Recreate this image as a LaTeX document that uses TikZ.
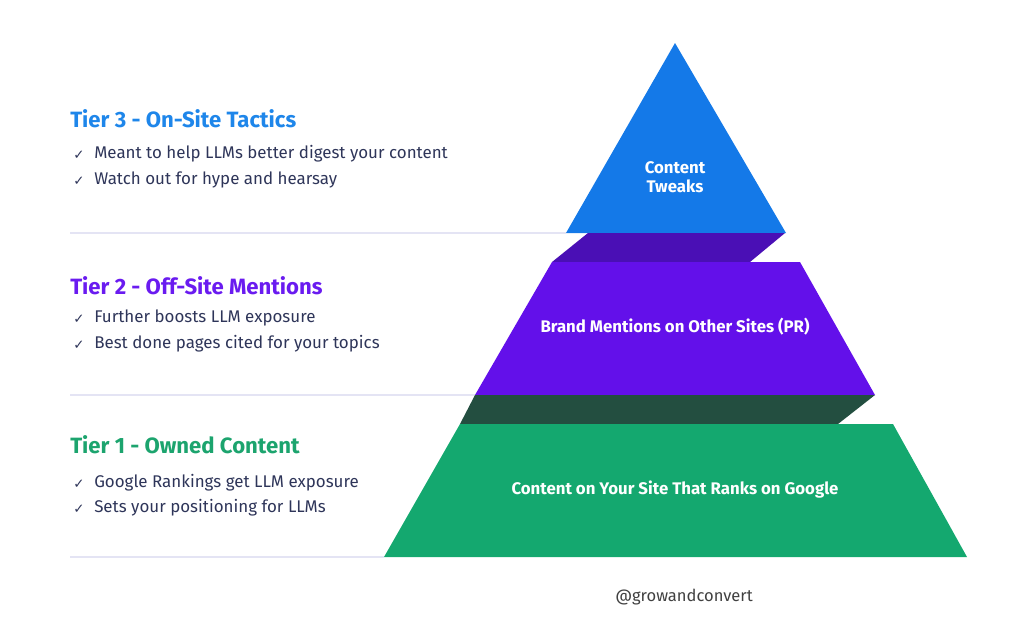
\documentclass[tikz,border=0pt]{standalone}
\usepackage{fontspec}
\setmainfont{Fira Sans}
\newfontfamily\symfont{DejaVu Sans}
\definecolor{tierblue}{HTML}{1479E8}
\definecolor{tierpurple}{HTML}{6310EA}
\definecolor{darkpurple}{HTML}{4A0FB5}
\definecolor{tiergreen}{HTML}{14A86F}
\definecolor{darkgreen}{HTML}{234E40}
\definecolor{headblue}{HTML}{1E86EA}
\definecolor{headpurple}{HTML}{6A1BF0}
\definecolor{headgreen}{HTML}{1CA46E}
\definecolor{bodytext}{HTML}{2E3559}
\definecolor{sepline}{HTML}{E4E4F4}
\tikzset{
  head/.style={anchor=west,inner sep=0pt,font=\fontsize{16.6}{20}\selectfont\bfseries},
  item/.style={anchor=west,inner sep=0pt,text=bodytext,font=\fontsize{12.7}{15}\selectfont},
  tick/.style={anchor=west,inner sep=0pt,text=bodytext,font=\symfont\fontsize{10}{12}\selectfont},
  label/.style={inner sep=0pt,text=white,align=center,font=\fontsize{12.6}{15}\selectfont\bfseries},
}
\begin{document}
\begin{tikzpicture}[x=0.75pt,y=-0.75pt]
    \useasboundingbox (0,0) rectangle (1024,640);
    %separators
    \draw [sepline,line width=0.9pt] (70,233) -- (566,233);
    \draw [sepline,line width=0.9pt] (70,395) -- (475,395);
    \draw [sepline,line width=0.9pt] (70,557) -- (384,557);
    %pyramid
    \fill [tierblue] (675,43) -- (786,233) -- (566,233) -- cycle;
    \fill [darkpurple] (588,233) -- (785,233) -- (750,262) -- (552,262) -- cycle;
    \fill [tierpurple] (552,262) -- (800,262) -- (875,395) -- (475,395) -- cycle;
    \fill [darkgreen] (475,395) -- (875,395) -- (838,424) -- (460,424) -- cycle;
    \fill [tiergreen] (460,424) -- (893,424) -- (967,557) -- (384,557) -- cycle;
    \node (P3) at (675,177) [label] {Content\\[-1pt]Tweaks};
    \node (P2) at (675,327) [label] {Brand Mentions on Other Sites (PR)};
    \node (P1) at (675,490) [label] {Content on Your Site That Ranks on Google};
    %tier texts
    \node (H3) at (70,119) [head,text=headblue] {Tier 3 - On-Site Tactics};
    \node (C31) at (73,155) [tick] {✓};
    \node (T31) at (94,154) [item] {Meant to help LLMs better digest your content};
    \node (C32) at (73,181) [tick] {✓};
    \node (T32) at (94,180) [item] {Watch out for hype and hearsay};
    \node (H2) at (70,286) [head,text=headpurple] {Tier 2 - Off-Site Mentions};
    \node (C21) at (73,319) [tick] {✓};
    \node (T21) at (94,318) [item] {Further boosts LLM exposure};
    \node (C22) at (73,345) [tick] {✓};
    \node (T22) at (94,344) [item] {Best done pages cited for your topics};
    \node (H1) at (70,445) [head,text=headgreen] {Tier 1 - Owned Content};
    \node (C11) at (73,484) [tick] {✓};
    \node (T11) at (94,483) [item] {Google Rankings get LLM exposure};
    \node (C12) at (73,509) [tick] {✓};
    \node (T12) at (94,508) [item] {Sets your positioning for LLMs};
    \node (SIG) at (684,597) [inner sep=0pt,text=black!75,font=\fontsize{12.4}{15}\selectfont] {@growandconvert};
\end{tikzpicture}
\end{document}
